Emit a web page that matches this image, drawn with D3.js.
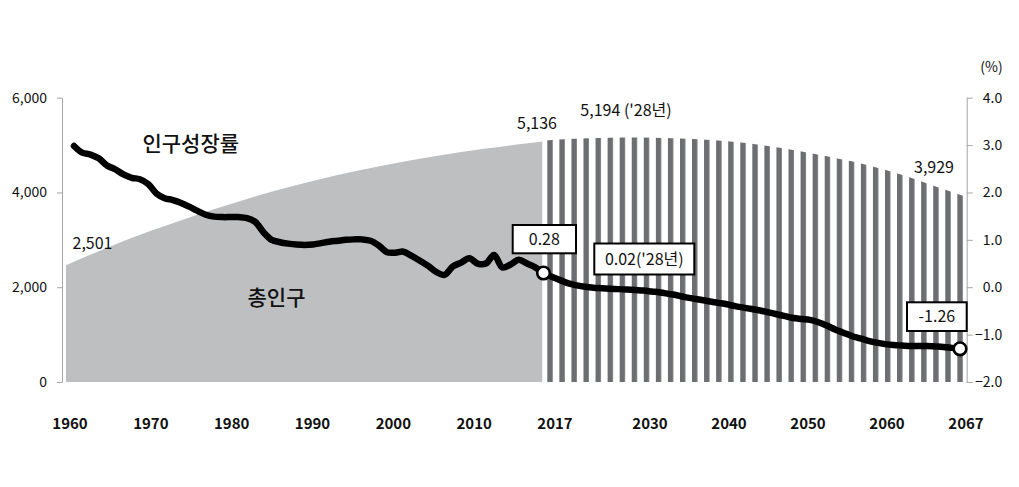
<!DOCTYPE html>
<html><head><meta charset="utf-8">
<script src="https://cdn.jsdelivr.net/npm/d3@7"></script>
<style>
body{margin:0;background:#fff}
svg{display:block}
text{font-family:"Noto Sans CJK KR","Noto Sans",sans-serif;fill:#111}
</style>
</head><body>
<svg id="c" width="1019" height="487"></svg>
<script>
// ---- data (population in 10 thousand persons, growth rate in %) ----
const histPopYears = [1960,1965,1970,1975,1980,1985,1990,1995,2000,2005,2010,2015,2017];
const histPop      = [2465,2840,3180,3490,3775,4035,4265,4465,4640,4790,4920,5035,5077];
const projPopYears = [2017,2020,2025,2028,2030,2035,2040,2045,2050,2055,2060,2065,2067];
const projPop      = [5090,5130,5155,5160,5157,5128,5064,4950,4790,4605,4360,4050,3929];

const histRateStart = 1960;
const histRate = [2.98,2.84,2.80,2.72,2.57,2.49,2.38,2.31,2.28,2.18,
                  1.98,1.88,1.84,1.78,1.70,1.61,1.53,1.49,1.48,1.48,
                  1.48,1.46,1.38,1.16,1.00,0.95,0.92,0.90,0.89,0.90,
                  0.93,0.96,0.98,1.00,1.01,1.01,0.98,0.88,0.74,0.73,
                  0.75,0.66,0.56,0.45,0.32,0.26,0.44,0.52,0.61,0.50,
                  0.50,0.68,0.42,0.48,0.58,0.50,0.42,0.30];
const projRateStart = 2018;
const projRate = [0.22,0.15,0.08,0.04,0.01,-0.01,-0.02,-0.03,-0.04,-0.05,
                  -0.06,-0.07,-0.09,-0.11,-0.14,-0.17,-0.21,-0.24,-0.27,-0.30,
                  -0.33,-0.36,-0.40,-0.43,-0.46,-0.49,-0.53,-0.57,-0.61,-0.65,
                  -0.67,-0.69,-0.74,-0.81,-0.89,-0.96,-1.03,-1.08,-1.13,-1.17,
                  -1.20,-1.22,-1.23,-1.24,-1.24,-1.24,-1.25,-1.26,-1.28,-1.30];

const popTicks  = [0,2000,4000,6000];
const rateTicks = [-2,-1,0,1,2,3,4];
const histYearLabels = ["1960","1970","1980","1990","2000","2010","2017"];
const projYearLabels = ["2030","2040","2050","2060","2067"];

const seriesLabels = {rate:"인구성장률", pop:"총인구"};
const popNotes = [{year:1960,text:"2,501"},{year:2017,text:"5,136"},{year:2028,text:"5,194 ('28년)"},{year:2067,text:"3,929"}];
const rateNotes = [{year:2017,text:"0.28"},{year:2028,text:"0.02('28년)"},{year:2067,text:"-1.26"}];

// ---- scales ----
const svg = d3.select("#c");
const yPop  = d3.scaleLinear().domain([0,6000]).range([382,97.7]);
const yRate = d3.scaleLinear().domain([-2,4]).range([382,97.7]);
const xArea = d3.scaleLinear().domain([1960,2017,2067]).range([66,542.5,963]);
const xLine = d3.scaleLinear().domain([1960,2017,2067]).range([74,543.5,960]);
const xLabHist = d3.scalePoint().domain(histYearLabels).range([70,555]);
const xLabProj = d3.scalePoint().domain(projYearLabels).range([650,966]);

// stripe pattern
const defs = svg.append("defs");
const pat = defs.append("pattern").attr("id","stripes").attr("patternUnits","userSpaceOnUse")
  .attr("x",547.3).attr("y",0).attr("width",12.06).attr("height",10);
pat.append("rect").attr("width",12.06).attr("height",10).attr("fill","#fff");
pat.append("rect").attr("width",5.4).attr("height",10).attr("fill","#6d6e71");

// ---- areas ----
const histData = histPopYears.map((y,i)=>({year:y,v:histPop[i]}));
const projData = projPopYears.map((y,i)=>({year:y,v:projPop[i]}));
const area = d3.area().x(d=>xArea(d.year)).y0(yPop(0)).y1(d=>yPop(d.v)).curve(d3.curveMonotoneX);
svg.append("path").datum(histData).attr("d",area).attr("fill","#bebfc1");
svg.append("path").datum(projData).attr("d",area).attr("fill","url(#stripes)");

// ---- axes ----
const axL = svg.append("g").attr("transform","translate(62,0)")
  .call(d3.axisLeft(yPop).tickValues(popTicks).tickSize(5).tickSizeOuter(0).tickPadding(10).tickFormat(d3.format(",")));
const axR = svg.append("g").attr("transform","translate(966.7,0)")
  .call(d3.axisRight(yRate).tickValues(rateTicks).tickSize(6).tickSizeOuter(0).tickPadding(0).tickFormat(d3.format(".1f")));
[axL,axR].forEach(a=>{
  a.select(".domain").attr("stroke","#a6a6a6");
  a.selectAll(".tick line").attr("stroke","#a6a6a6");
  a.selectAll("text").style("font-size","14px").attr("fill","#111");
});
axR.selectAll("text").attr("text-anchor","end").attr("x",35.5);

svg.append("text").attr("x",991.5).attr("y",66.7).attr("dy","0.35em").attr("text-anchor","middle")
  .style("font-size","14px").text("(%)");

// x labels
const xl = svg.append("g").style("font-size","15px").style("font-weight","bold");
histYearLabels.forEach(l=>xl.append("text").attr("x",xLabHist(l)).attr("y",423.3).attr("dy","0.35em").attr("text-anchor","middle").text(l));
projYearLabels.forEach(l=>xl.append("text").attr("x",xLabProj(l)).attr("y",423.3).attr("dy","0.35em").attr("text-anchor","middle").text(l));

// ---- line ----
const rateData = histRate.map((v,i)=>({year:histRateStart+i,v}))
  .concat(projRate.map((v,i)=>({year:projRateStart+i,v})));
const line = d3.line().x(d=>xLine(d.year)).y(d=>yRate(d.v)).curve(d3.curveCatmullRom.alpha(0.5));
svg.append("path").datum(rateData).attr("d",line).attr("fill","none").attr("stroke","#000")
  .attr("stroke-width",6.5).attr("stroke-linejoin","round").attr("stroke-linecap","round");

// markers
const markYears = [2017,2067];
markYears.forEach(yr=>{
  const d = rateData.find(p=>p.year===yr);
  svg.append("circle").attr("cx",xLine(d.year)).attr("cy",yRate(d.v)).attr("r",6.3)
    .attr("fill","#fff").attr("stroke","#000").attr("stroke-width",2.6);
});

// ---- text labels ----
svg.append("text").attr("x",190.8).attr("y",143.3).attr("dy","0.35em").attr("text-anchor","middle")
  .style("font-size","21px").style("font-weight","500").text(seriesLabels.rate);
svg.append("text").attr("x",276.5).attr("y",298).attr("dy","0.35em").attr("text-anchor","middle")
  .style("font-size","21px").style("font-weight","500").text(seriesLabels.pop);

const popPos = [{dx:26.5,y:243.3},{dx:-5.5,y:123.3},{dx:-9,y:110},{dx:-29,y:167.7}];
popNotes.forEach((n,i)=>{
  svg.append("text").attr("x",xArea(n.year)+popPos[i].dx).attr("y",popPos[i].y).attr("dy","0.35em")
    .attr("text-anchor","middle").style("font-size","16px").text(n.text);
});

const boxes = [{x:512.7,y:225,w:63.3,h:28.3},{x:594.3,y:243.5,w:100,h:31},{x:907,y:302.3,w:59.7,h:28.7}];
rateNotes.forEach((n,i)=>{
  const b = boxes[i];
  svg.append("rect").attr("x",b.x).attr("y",b.y).attr("width",b.w).attr("height",b.h)
    .attr("fill","#fff").attr("stroke","#000").attr("stroke-width",2);
  svg.append("text").attr("x",b.x+b.w/2).attr("y",b.y+b.h/2).attr("dy","0.35em")
    .attr("text-anchor","middle").style("font-size","16px").text(n.text);
});
</script>
</body></html>
